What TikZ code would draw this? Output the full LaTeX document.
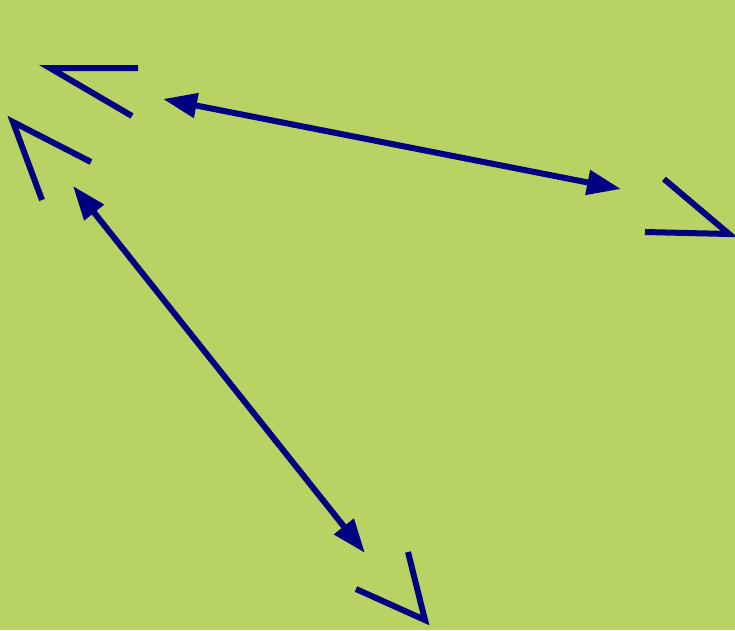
\documentclass[tikz,border=0pt]{standalone}
\usetikzlibrary{arrows.meta}
\definecolor{bggreen}{RGB}{184,210,100}
\definecolor{navy}{RGB}{0,0,128}
\tikzset{
  angleline/.style={draw=navy,line width=6pt,line cap=butt,line join=miter},
  dblarrow/.style={draw=navy,line width=6pt,{Triangle[length=34pt,width=24pt]}-{Triangle[length=34pt,width=24pt]}}
}
\begin{document}
\begin{tikzpicture}[x=1pt,y=-1pt]
\fill[bggreen] (0,0) rectangle (735,630);
\useasboundingbox (0,0) rectangle (735,630);
% angle marks
\coordinate (a1) at (138,68); \coordinate (av) at (50,68); \coordinate (a2) at (132,116);
\coordinate (b1) at (91,162); \coordinate (bv) at (13,122); \coordinate (b2) at (42,200);
\coordinate (c1) at (664,179); \coordinate (cv) at (729,234); \coordinate (c2) at (645,232);
\coordinate (d1) at (408,552); \coordinate (dv) at (425,620); \coordinate (d2) at (356,589);
\draw[angleline] (a1) -- (av) -- (a2);
\draw[angleline] (b1) -- (bv) -- (b2);
\draw[angleline] (c1) -- (cv) -- (c2);
\draw[angleline] (d1) -- (dv) -- (d2);
% arrows
\coordinate (p1) at (163,99); \coordinate (p2) at (621,189);
\coordinate (q1) at (73,186); \coordinate (q2) at (365,553);
\draw[dblarrow] (p1) -- (p2);
\draw[dblarrow] (q1) -- (q2);
\end{tikzpicture}
\end{document}
